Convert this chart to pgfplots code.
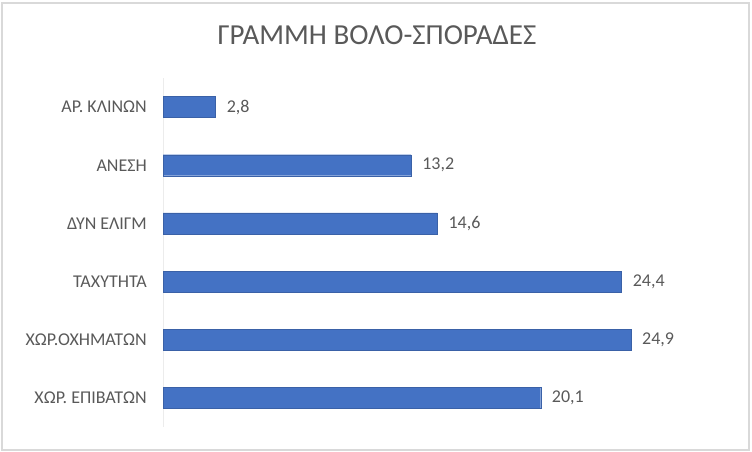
\documentclass[border=0pt]{standalone}
\usepackage{fontspec}
\setmainfont{Carlito}
\usepackage{pgfplots}
\pgfplotsset{compat=1.18}
\definecolor{barblue}{HTML}{4472C4}
\definecolor{txtgray}{HTML}{595959}
\definecolor{framegray}{HTML}{D9D9D9}
\begin{document}
\begin{tikzpicture}
\path[use as bounding box] (0pt,0pt) rectangle (752pt,452pt);
\draw[framegray, line width=1.5pt] (2pt,2pt) rectangle (749pt,449pt);
\node[txtgray, font=\fontsize{29}{33}\selectfont] at (377pt,417pt) {ΓΡΑΜΜΗ ΒΟΛΟ-ΣΠΟΡΑΔΕΣ};
\begin{axis}[
    at={(163pt,25pt)},
    anchor=south west,
    scale only axis,
    width=545pt,
    height=349pt,
    xbar,
    bar width=21pt,
    xmin=0, xmax=29,
    ymin=-0.5, ymax=5.5,
    axis x line=none,
    axis y line*=left,
    y axis line style={framegray!50, line width=0.8pt, -},
    ytick={0,1,2,3,4,5},
    yticklabels={ΧΩΡ. ΕΠΙΒΑΤΩΝ, ΧΩΡ.ΟΧΗΜΑΤΩΝ, ΤΑΧΥΤΗΤΑ, ΔΥΝ ΕΛΙΓΜ, ΑΝΕΣΗ, ΑΡ. ΚΛΙΝΩΝ},
    major tick length=0pt,
    yticklabel style={font=\fontsize{18}{20}\selectfont, text=txtgray, inner sep=0pt, xshift=-16pt},
    /pgf/number format/assume math mode=true,
    /pgf/number format/use comma,
    /pgf/number format/fixed,
    /pgf/number format/fixed zerofill,
    /pgf/number format/precision=1,
    nodes near coords,
    every node near coord/.append style={font=\fontsize{18}{20}\selectfont, text=txtgray, anchor=west, inner sep=0pt, xshift=11pt},
]
\addplot[fill=barblue, draw=barblue!85!black, line width=0.4pt] coordinates {
    (20.1,0) (24.9,1) (24.4,2) (14.6,3) (13.2,4) (2.8,5)
};
\end{axis}
\end{tikzpicture}
\end{document}
